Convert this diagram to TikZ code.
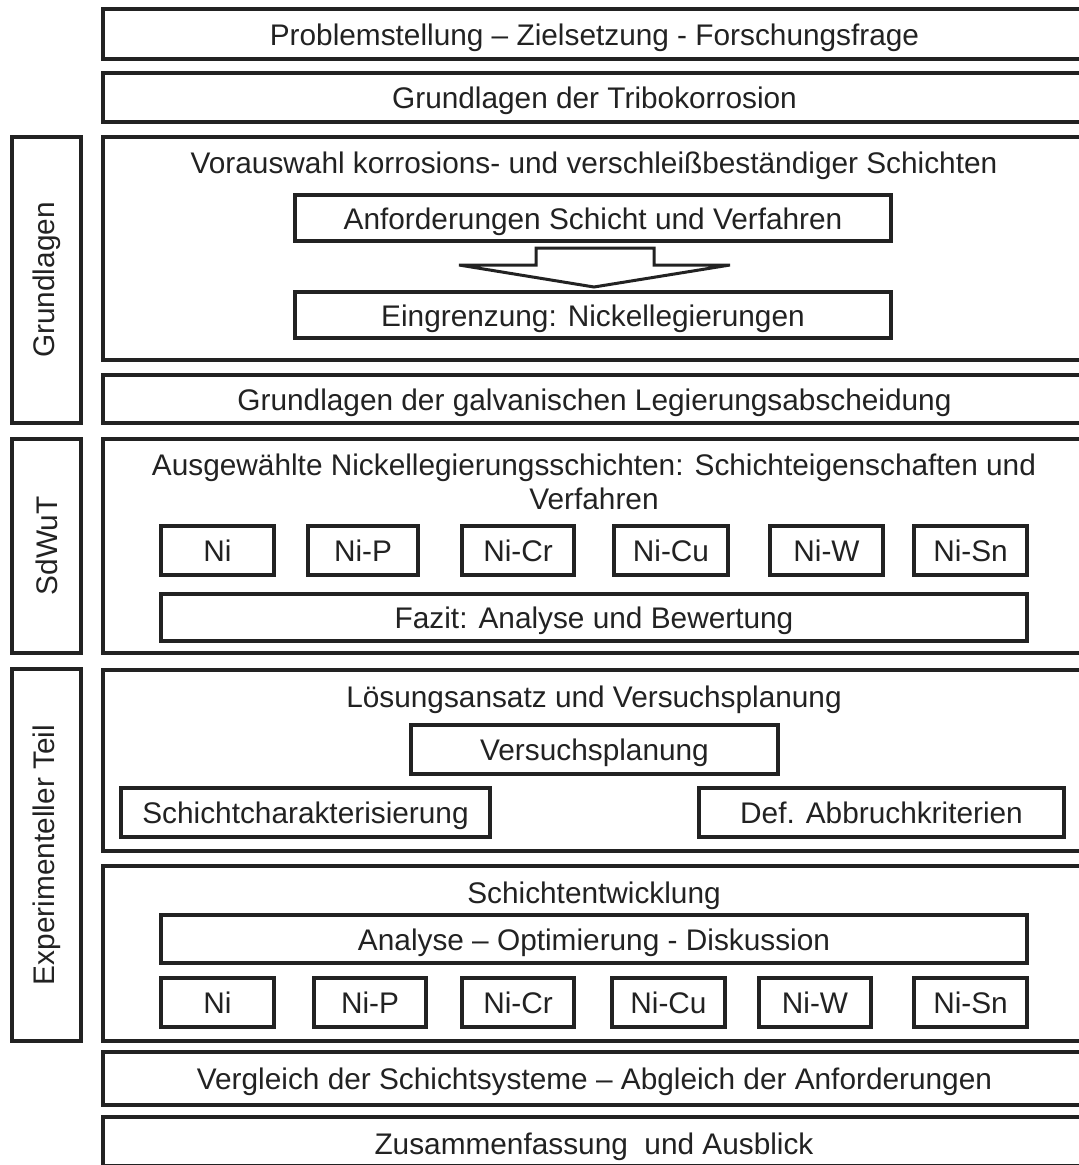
\documentclass[tikz,border=0pt]{standalone}
\usepackage{fontspec}
\setmainfont{Liberation Sans}
\usetikzlibrary{calc,fit}
\definecolor{ink}{HTML}{222222}
\newcommand\diagfont{\fontsize{29.8}{34}\selectfont}
\begin{document}
\begin{tikzpicture}[x=1pt,y=-1pt,
  frame/.style={draw=ink, line width=4.2pt, fill=white, inner sep=0pt, outer sep=0pt},
  box/.style={draw=ink, line width=4pt, fill=white, inner sep=0pt, outer sep=0pt},
  lbl/.style={inner sep=0pt, font=\diagfont, text=ink, align=center},
  inlbl/.style={lbl, anchor=base}]
\useasboundingbox (0,0) rectangle (1079,1165);
\clip (0,0) rectangle (1079,1165);

% text set on the baseline, 11pt below the middle of its box
\newcommand\boxtext[2]{\node[inlbl] at ($(#1.center)+(0,11)$) {#2};}

% side labels
\node[frame, fit={(12,137) (81,423)}] (sideA) {};
\node[lbl, rotate=90] at (sideA.center) {Grundlagen};
\node[frame, fit={(12,439) (81,653)}] (sideB) {};
\node[lbl, rotate=90] at (sideB.center) {SdWuT};
\node[frame, fit={(12,669) (81,1041)}] (sideC) {};
\node[lbl, rotate=90] at (sideC.center) {Experimenteller Teil};

% chapter rows
\node[frame, fit={(103,9) (1086,59)}] (b1) {};
\boxtext{b1}{Problemstellung – Zielsetzung - Forschungsfrage}
\node[frame, fit={(103,73) (1086,122)}] (b2) {};
\boxtext{b2}{Grundlagen der Tribokorrosion}

\node[frame, fit={(103,137) (1086,360)}] (b3) {};
\node[inlbl] (t3) at (594,173) {Vorauswahl korrosions- und verschleißbeständiger Schichten};
\node[box, fit={(295,195) (891,241)}] (anf) {};
\boxtext{anf}{Anforderungen Schicht und Verfahren}
\node[box, fit={(295,292) (891,338)}] (ein) {};
\boxtext{ein}{Eingrenzung: Nickellegierungen}
\draw[ink, line width=3pt, line join=miter, fill=white]
  ($(anf.south)+(-57,7)$) -- ($(anf.south)+(61,7)$) -- ($(anf.south)+(61,24)$)
  -- ($(anf.south)+(137,24)$) -- ($(ein.north)+(1,-5)$) -- ($(anf.south)+(-134,24)$)
  -- ($(anf.south)+(-57,24)$) -- cycle;

\node[frame, fit={(103,375) (1086,423)}] (b4) {};
\boxtext{b4}{Grundlagen der galvanischen Legierungsabscheidung}

\node[frame, fit={(103,439) (1086,653)}] (b5) {};
\node[inlbl] (t5a) at (594,475) {Ausgewählte Nickellegierungsschichten: Schichteigenschaften und};
\node[inlbl] (t5b) at (594,509) {Verfahren};
\node[box, fit={(161,526) (274,575)}] (pA1) {}; \boxtext{pA1}{Ni}
\node[box, fit={(308,526) (418,575)}] (pA2) {}; \boxtext{pA2}{Ni-P}
\node[box, fit={(462,526) (574,575)}] (pA3) {}; \boxtext{pA3}{Ni-Cr}
\node[box, fit={(614,526) (728,575)}] (pA4) {}; \boxtext{pA4}{Ni-Cu}
\node[box, fit={(770,526) (883,575)}] (pA5) {}; \boxtext{pA5}{Ni-W}
\node[box, fit={(914,526) (1027,575)}] (pA6) {}; \boxtext{pA6}{Ni-Sn}
\node[box, fit={(161,594) (1027,641)}] (faz) {};
\boxtext{faz}{Fazit: Analyse und Bewertung}

\node[frame, fit={(103,670) (1086,851)}] (b6) {};
\node[inlbl] (t6) at (594,707) {Lösungsansatz und Versuchsplanung};
\node[box, fit={(411,725) (778,774)}] (vp) {};
\boxtext{vp}{Versuchsplanung}
\node[box, fit={(121,788) (490,837)}] (sc) {};
\boxtext{sc}{Schichtcharakterisierung}
\node[box, fit={(699,788) (1064,837)}] (da) {};
\boxtext{da}{Def. Abbruchkriterien}

\node[frame, fit={(103,866) (1086,1041)}] (b7) {};
\node[inlbl] (t7) at (594,903) {Schichtentwicklung};
\node[box, fit={(161,915) (1027,963)}] (aod) {};
\boxtext{aod}{Analyse – Optimierung - Diskussion}
\node[box, fit={(161,978) (274,1027)}] (pB1) {}; \boxtext{pB1}{Ni}
\node[box, fit={(314,978) (426,1027)}] (pB2) {}; \boxtext{pB2}{Ni-P}
\node[box, fit={(462,978) (574,1027)}] (pB3) {}; \boxtext{pB3}{Ni-Cr}
\node[box, fit={(612,978) (725,1027)}] (pB4) {}; \boxtext{pB4}{Ni-Cu}
\node[box, fit={(759,978) (871,1027)}] (pB5) {}; \boxtext{pB5}{Ni-W}
\node[box, fit={(914,978) (1027,1027)}] (pB6) {}; \boxtext{pB6}{Ni-Sn}

\node[frame, fit={(103,1052) (1086,1105)}] (b8) {};
\boxtext{b8}{Vergleich der Schichtsysteme – Abgleich der Anforderungen}
\node[frame, fit={(103,1117) (1086,1166)}] (b9) {};
\node[inlbl] at (594,1154) {Zusammenfassung\ \ und Ausblick};
\end{tikzpicture}
\end{document}
